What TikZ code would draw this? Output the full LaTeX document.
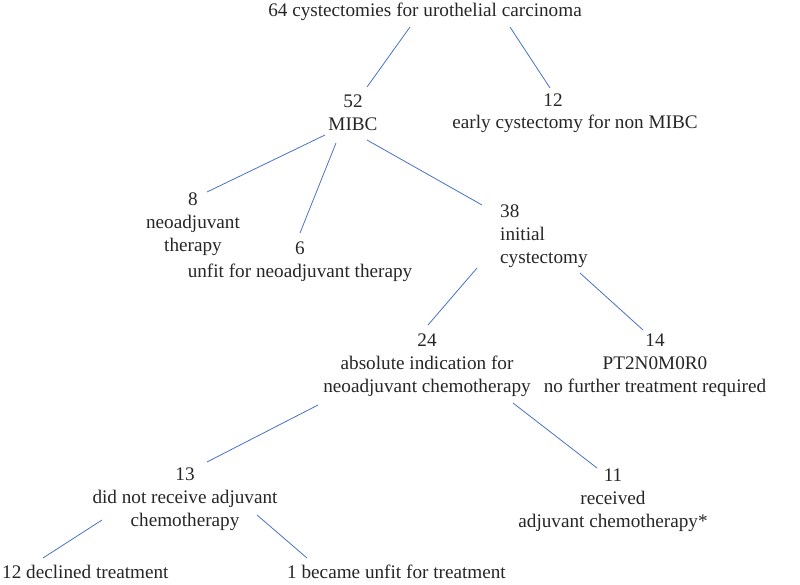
\documentclass[tikz,border=0pt]{standalone}
\usepackage{fontspec}
\setmainfont{LiberationSerif}[Extension=.ttf, UprightFont=*-Regular, BoldFont=*-Bold]
\usepackage{xcolor}
\usetikzlibrary{calc}
\definecolor{linkblue}{RGB}{72,114,196}

\begin{document}
\begin{tikzpicture}[
    x=1pt, y=-1pt,
    every node/.style={font=\fontsize{19.2}{23}\selectfont, inner sep=0pt, text=black!85},
    group/.style={align=center},
    link/.style={draw=linkblue, line width=0.8pt}
]
\useasboundingbox (0,0) rectangle (800,584);

\node (total) at (425,12) {64 cystectomies for urothelial carcinoma};
\node[group] (mibc) at (353,113) {52\\MIBC};
\node (n12) at (553,100) {12};
\node (early) at (575,124) {early cystectomy for non MIBC};
\node[group] (neo) at (193,224) {8\\neoadjuvant\\therapy};
\node[group] (unfit) at (300,262) {6\\unfit for neoadjuvant therapy};
\node[align=left, anchor=west] (init) at (500,236) {38\\initial\\cystectomy};
\node[group] (abs) at (427,365) {24\\absolute indication for\\neoadjuvant chemotherapy};
\node[group] (ptn) at (655,365) {14\\PT2N0M0R0\\no further treatment required};
\node[group] (nochemo) at (185,499) {13\\did not receive adjuvant\\chemotherapy};
\node[group] (chemo) at (613,500) {11\\received\\adjuvant chemotherapy*};
\node[anchor=west] (declined) at (2,572) {12 declined treatment};
\node[anchor=west] (unfitT) at (287,572) {1 became unfit for treatment};

\draw[link] ($(total)+(-15,15)$) -- ($(mibc)+(14,-26)$);
\draw[link] ($(total)+(85,15)$) -- ($(n12)+(-3,-12)$);
\draw[link] ($(mibc)+(-28,22)$) -- ($(neo)+(14,-32)$);
\draw[link] ($(mibc)+(-17,30)$) -- ($(unfit)+(0,-29)$);
\draw[link] ($(mibc)+(14,27)$) -- ($(init.west)+(-18,-31)$);
\draw[link] ($(init.west)+(-23,32)$) -- ($(abs)+(1,-40)$);
\draw[link] ($(init.west)+(80,37)$) -- ($(ptn)+(-12,-35)$);
\draw[link] ($(abs)+(-109,40)$) -- ($(nochemo)+(22,-37)$);
\draw[link] ($(abs)+(86,38)$) -- ($(chemo)+(-16,-32)$);
\draw[link] ($(nochemo)+(-83,21)$) -- ($(declined.west)+(41,-14)$);
\draw[link] ($(nochemo)+(72,16)$) -- ($(unfitT.west)+(20,-14)$);

\end{tikzpicture}
\end{document}
